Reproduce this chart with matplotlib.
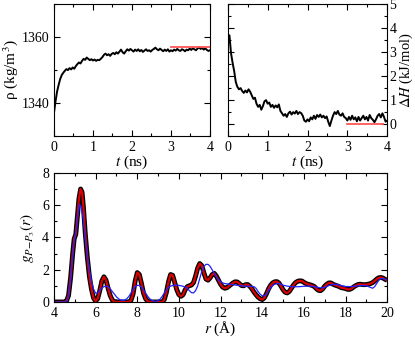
import numpy as np
import matplotlib.pyplot as plt
from matplotlib.ticker import MultipleLocator

plt.rcParams['font.family'] = ['Liberation Serif', 'DejaVu Serif']
plt.rcParams['mathtext.fontset'] = 'stix'

# density vs time (every 0.04 ns)
rho = [1337.0, 1340.5, 1343.5, 1345.5, 1347.3, 1348.5, 1349.2, 1349.8, 1350.3, 1350.0,
       1350.6, 1350.2, 1350.8, 1350.4, 1351.2, 1351.8, 1352.3, 1352.0, 1352.8, 1353.4,
       1353.1, 1353.8, 1353.4, 1353.0, 1353.3, 1352.9, 1353.2, 1352.8, 1353.1, 1353.0,
       1353.4, 1353.9, 1354.6, 1355.0, 1354.5, 1354.8, 1354.3, 1354.9, 1355.2, 1354.8,
       1355.4, 1355.0, 1355.6, 1356.2, 1355.4, 1355.0, 1355.7, 1356.3, 1355.9, 1356.4,
       1356.0, 1355.6, 1356.2, 1355.8, 1356.3, 1355.7, 1356.1, 1355.5, 1355.9, 1356.3,
       1355.8, 1356.0, 1355.6, 1356.1, 1356.4, 1356.8, 1356.3, 1356.0, 1356.5, 1356.1,
       1355.7, 1356.2, 1355.8, 1356.3, 1355.6, 1356.0, 1355.7, 1356.2, 1355.9, 1356.4,
       1356.0, 1355.8, 1356.3, 1356.1, 1355.7, 1356.2, 1356.0, 1356.5, 1356.1, 1356.6,
       1356.3, 1356.0, 1356.5, 1356.9, 1356.4, 1356.7, 1356.2, 1356.6, 1356.1, 1355.8,
       1356.0]
rho_ref_t = [3.0, 4.0]
rho_ref = [1357.0, 1357.0]

# enthalpy difference vs time (every 0.04 ns)
dH = [3.3, 3.7, 2.95, 2.55, 2.2, 1.75, 1.55, 1.45, 1.5, 1.38,
      1.3, 1.4, 1.32, 1.45, 1.35, 1.2, 1.05, 1.1, 0.85, 0.72,
      0.8, 0.6, 0.75, 0.95, 1.0, 0.85, 0.9, 0.72, 0.8, 0.68,
      0.78, 0.7, 0.82, 0.55, 0.45, 0.35, 0.42, 0.3, 0.45, 0.52,
      0.4, 0.5, 0.44, 0.55, 0.42, 0.5, 0.46, 0.35, 0.15, 0.1,
      0.2, 0.12, 0.28, 0.2, 0.35, 0.22, 0.38, 0.3, 0.4, 0.28,
      0.35, 0.25, 0.32, 0.1, -0.08, 0.15, 0.35, 0.5, 0.42, 0.55,
      0.4, 0.35, 0.45, 0.3, 0.25, 0.15, 0.3, 0.18, 0.35, 0.2,
      0.28, 0.12, 0.3, 0.15, 0.25, 0.35, 0.2, 0.3, 0.15, 0.38,
      0.25, 0.18, 0.08, 0.2, 0.35, 0.42, 0.28, 0.45, 0.3, 0.1,
      0.15]
dH_ref_t = [3.0, 3.9]
dH_ref = [0.0, 0.0]

# radial distribution functions
r_sim = [4.0, 4.5, 4.6, 4.7, 4.8, 4.9, 4.97, 5.05, 5.12, 5.2, 5.28, 5.35, 5.42, 5.5, 5.6,
         5.7, 5.8, 5.9, 6.0, 6.1, 6.2, 6.3, 6.4, 6.5, 6.6, 6.7, 6.8, 6.9, 7.0, 7.6,
         7.7, 7.8, 7.9, 8.0, 8.1, 8.2, 8.3, 8.4, 8.5, 8.6, 9.2, 9.3, 9.4, 9.5, 9.6,
         9.7, 9.8, 9.9, 10.0, 10.1, 10.2, 10.3, 10.4, 10.5, 10.6, 10.7, 10.8, 10.9, 11.0, 11.1,
         11.2, 11.3, 11.4, 11.5, 11.6, 11.7, 11.8, 11.9, 12.0, 12.1, 12.2, 12.3, 12.4, 12.5, 12.6,
         12.7, 12.8, 12.9, 13.0, 13.1, 13.2, 13.3, 13.4, 13.5, 13.6, 13.7, 13.8, 13.9, 14.0, 14.1,
         14.2, 14.3, 14.4, 14.5, 14.6, 14.7, 14.8, 14.9, 15.0, 15.1, 15.2, 15.3, 15.4, 15.5, 15.6,
         15.7, 15.8, 15.9, 16.0, 16.1, 16.2, 16.3, 16.4, 16.5, 16.6, 16.7, 16.8, 16.9, 17.0, 17.1,
         17.2, 17.3, 17.4, 17.5, 17.6, 17.7, 17.8, 17.9, 18.0, 18.1, 18.2, 18.3, 18.4, 18.5, 18.6,
         18.7, 18.8, 18.9, 19.0, 19.1, 19.2, 19.3, 19.4, 19.5, 19.6, 19.7, 19.8, 19.9, 20.0]
g_sim = [0, 0, 0.05, 0.4, 1.5, 3.0, 3.9, 4.2, 5.2, 6.4, 7.0, 6.8, 5.8, 4.3, 2.8,
         1.6, 0.8, 0.25, 0.05, 0.2, 0.7, 1.3, 1.56, 1.35, 0.85, 0.4, 0.12, 0.02, 0, 0,
         0.1, 0.5, 1.3, 1.82, 1.7, 1.15, 0.55, 0.2, 0.05, 0, 0, 0.15, 0.6, 1.25, 1.7,
         1.65, 1.2, 0.75, 0.45, 0.35, 0.45, 0.75, 0.95, 1.0, 1.05, 1.2, 1.6, 2.1, 2.38, 2.25,
         1.8, 1.42, 1.35, 1.5, 1.7, 1.77, 1.6, 1.35, 1.1, 0.92, 0.85, 0.88, 0.98, 1.08, 1.18,
         1.25, 1.24, 1.14, 1.02, 1.0, 1.07, 1.08, 0.98, 0.82, 0.62, 0.45, 0.3, 0.2, 0.15, 0.25,
         0.5, 0.8, 1.03, 1.18, 1.25, 1.26, 1.18, 0.98, 0.76, 0.6, 0.56, 0.65, 0.85, 1.05, 1.2,
         1.28, 1.31, 1.3, 1.22, 1.14, 1.1, 1.06, 1.02, 0.96, 0.82, 0.72, 0.7, 0.8, 0.98, 1.1,
         1.18, 1.18, 1.1, 1.04, 1.0, 0.95, 0.88, 0.86, 0.83, 0.78, 0.78, 0.84, 0.94, 1.02, 1.08,
         1.1, 1.08, 1.07, 1.08, 1.1, 1.14, 1.2, 1.3, 1.42, 1.5, 1.52, 1.48, 1.4, 1.35]

r_other = [4.0, 4.55, 4.65, 4.75, 4.85, 4.95, 5.05, 5.15, 5.23, 5.3, 5.4, 5.5, 5.6, 5.7, 5.8,
           5.9, 6.0, 6.1, 6.2, 6.3, 6.4, 6.5, 6.6, 6.7, 6.8, 6.9, 7.0, 7.1, 7.2, 7.3,
           7.4, 7.5, 7.6, 7.7, 7.8, 7.9, 8.0, 8.1, 8.2, 8.3, 8.4, 8.5, 8.6, 8.7, 8.8,
           8.9, 9.0, 9.1, 9.2, 9.3, 9.4, 9.5, 9.6, 9.7, 9.8, 9.9, 10.0, 10.1, 10.2, 10.3,
           10.4, 10.5, 10.6, 10.7, 10.8, 10.9, 11.0, 11.1, 11.2, 11.3, 11.4, 11.5, 11.6, 11.7, 11.8,
           11.9, 12.0, 12.1, 12.2, 12.4, 12.6, 12.8, 13.0, 13.2, 13.4, 13.6, 13.7, 13.8, 13.9, 14.0,
           14.1, 14.2, 14.3, 14.4, 14.5, 14.6, 14.7, 14.8, 14.9, 15.0, 15.2, 15.4, 15.6, 15.8, 16.0,
           16.2, 16.4, 16.6, 16.8, 17.0, 17.2, 17.4, 17.6, 17.8, 18.0, 18.2, 18.4, 18.6, 18.8, 19.0,
           19.2, 19.3, 19.4, 19.5, 19.6, 19.7, 19.8, 19.9, 20.0]
g_other = [0, 0, 0.1, 0.8, 2.2, 3.6, 4.3, 5.4, 6.05, 5.95, 5.2, 4.0, 2.9, 2.0, 1.3,
           0.8, 0.55, 0.55, 0.72, 0.86, 0.95, 0.98, 0.95, 0.82, 0.65, 0.47, 0.32, 0.2, 0.12, 0.1,
           0.12, 0.2, 0.35, 0.55, 0.78, 0.95, 1.03, 1.02, 0.92, 0.75, 0.55, 0.35, 0.2, 0.1, 0.05,
           0.04, 0.08, 0.18, 0.35, 0.55, 0.75, 0.9, 0.98, 1.02, 1.04, 1.04, 1.03, 1.0, 0.97, 0.93,
           0.85, 0.7, 0.58, 0.56, 0.7, 1.0, 1.45, 1.9, 2.2, 2.33, 2.33, 2.2, 1.98, 1.75, 1.55,
           1.38, 1.25, 1.18, 1.14, 1.1, 1.07, 1.03, 1.0, 0.98, 0.97, 0.95, 0.85, 0.65, 0.48, 0.38,
           0.37, 0.48, 0.68, 0.88, 1.02, 1.1, 1.14, 1.14, 1.1, 1.04, 0.98, 0.95, 0.94, 0.95, 0.97,
           0.98, 0.97, 0.92, 0.87, 0.9, 1.02, 1.1, 1.08, 1.0, 0.96, 0.95, 0.97, 1.0, 1.02, 1.0,
           0.9, 0.85, 0.95, 1.15, 1.35, 1.45, 1.45, 1.4, 1.35]

t_rho = np.linspace(0, 4, len(rho))
t_dH = np.linspace(0, 4, len(dH))

fig = plt.figure(figsize=(4.15, 3.37), dpi=100)
ax1 = fig.add_axes([0.130, 0.596, 0.376, 0.392])
ax2 = fig.add_axes([0.549, 0.596, 0.384, 0.392])
ax3 = fig.add_axes([0.130, 0.104, 0.803, 0.383])

for ax in (ax1, ax2, ax3):
    ax.tick_params(which='both', direction='in', top=True, right=True, labelsize=10)
    ax.tick_params(which='major', length=4.5, width=0.8)
    ax.tick_params(which='minor', length=2.5, width=0.8)

# density
ax1.plot(t_rho, rho, color='black', lw=1.4)
ax1.plot(rho_ref_t, rho_ref, color='#ff5555', lw=1.3)
ax1.set_xlim(0, 4)
ax1.set_ylim(1330, 1370)
ax1.xaxis.set_major_locator(MultipleLocator(1))
ax1.xaxis.set_minor_locator(MultipleLocator(0.5))
ax1.yaxis.set_major_locator(MultipleLocator(20))
ax1.yaxis.set_minor_locator(MultipleLocator(10))
ax1.set_xlabel(r'$t$ (ns)', fontsize=11, labelpad=0)
ax1.set_ylabel(r'ρ (kg/m$^3$)', fontsize=11, labelpad=1)

# enthalpy
ax2.plot(t_dH, dH, color='black', lw=1.4)
ax2.plot(dH_ref_t, dH_ref, color='#ff5555', lw=1.3)
ax2.set_xlim(0, 4)
ax2.set_ylim(-0.5, 5)
ax2.xaxis.set_major_locator(MultipleLocator(1))
ax2.xaxis.set_minor_locator(MultipleLocator(0.5))
ax2.yaxis.set_major_locator(MultipleLocator(1))
ax2.yaxis.set_minor_locator(MultipleLocator(0.5))
ax2.tick_params(axis='y', labelleft=False, labelright=True, pad=1.5)
ax2.set_xlabel(r'$t$ (ns)', fontsize=11, labelpad=0)
ax2.yaxis.set_label_position('right')
ax2.set_ylabel(r'$\Delta H$ (kJ/mol)', fontsize=10.5, rotation=90, va='center')
ax2.yaxis.set_label_coords(1.12, 0.5)

# RDF
ax3.plot(r_sim, g_sim, color='black', lw=3.5, solid_capstyle='butt')
ax3.plot(r_sim, g_sim, color='#dd0000', lw=1.6)
ax3.plot(r_other, g_other, color='#2222ff', lw=0.9)
ax3.set_xlim(4, 20)
ax3.set_ylim(0, 8)
ax3.xaxis.set_major_locator(MultipleLocator(2))
ax3.xaxis.set_minor_locator(MultipleLocator(1))
ax3.yaxis.set_major_locator(MultipleLocator(2))
ax3.yaxis.set_minor_locator(MultipleLocator(1))
ax3.set_xlabel(r'$r$ (Å)', fontsize=11, labelpad=0)
ax3.set_ylabel(r'$g_{P\mathrm{-}P_3}(r)$', fontsize=11, labelpad=4)

fig.savefig('out.png', dpi=100)
